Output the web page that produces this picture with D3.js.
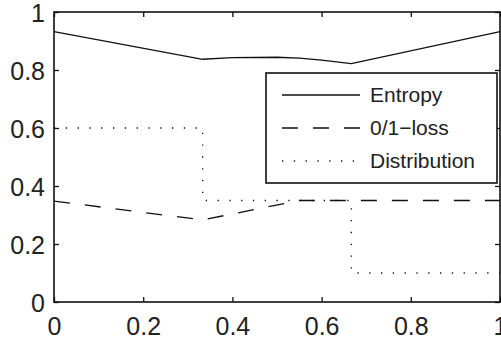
<!DOCTYPE html>
<html>
<head>
<meta charset="utf-8">
<script src="https://cdn.jsdelivr.net/npm/d3@7"></script>
<style>
  body { margin: 0; background: #fff; }
  svg { display: block; }
  text { font-family: "Liberation Sans", Arial, sans-serif; fill: #222; }
</style>
</head>
<body>
<div id="chart"></div>
<script>
var xTicks = [0, 0.2, 0.4, 0.6, 0.8, 1];
var yTicks = [0, 0.2, 0.4, 0.6, 0.8, 1];

var entropyX = [0, 1 / 3, 0.4, 0.5, 0.55, 0.6, 2 / 3, 1];
var entropyY = [0.932, 0.837, 0.843, 0.844, 0.841, 0.834, 0.822, 0.932];

var lossX = [0, 1 / 3, 0.55, 1];
var lossY = [0.348, 0.283, 0.35, 0.35];

var distX = [0, 1 / 3, 1 / 3, 2 / 3, 2 / 3, 1];
var distY = [0.6, 0.6, 0.35, 0.35, 0.1, 0.1];

var legendNames = ['Entropy', '0/1\u2212loss', 'Distribution'];

var W = 501, H = 340;
var margin = {left: 54, top: 12, right: 1, bottom: 38};
var width = W - margin.left - margin.right;
var height = H - margin.top - margin.bottom;

var x = d3.scaleLinear().domain([0, 1]).range([0, width]);
var y = d3.scaleLinear().domain([0, 1]).range([height, 0]);

var svg = d3.select('#chart').append('svg')
    .attr('width', W)
    .attr('height', H);
var g = svg.append('g')
    .attr('transform', 'translate(' + margin.left + ',' + margin.top + ')');

function zip(xs, ys) {
    return xs.map(function (d, i) { return [d, ys[i]]; });
}

var line = d3.line()
    .x(function (d) { return x(d[0]); })
    .y(function (d) { return y(d[1]); });

var styles = [
    {data: zip(entropyX, entropyY), dash: null, w: 1.3},
    {data: zip(lossX, lossY), dash: '16,15', w: 1.3},
    {data: zip(distX, distY), dash: '1.3,10.5', w: 1.3}
];

// draw distribution first so the dashed loss sits on top
[2, 1, 0].forEach(function (i) {
    var s = styles[i];
    g.append('path')
        .datum(s.data)
        .attr('d', line)
        .attr('fill', 'none')
        .attr('stroke', '#111')
        .attr('stroke-width', s.w)
        .attr('stroke-dasharray', s.dash);
});

// axes, ticks inside like matlab
var fmt = function (d) { return d3.format('')(d); };
var axB = g.append('g')
    .attr('transform', 'translate(0,' + height + ')')
    .call(d3.axisBottom(x).tickValues(xTicks).tickFormat(fmt).tickSizeInner(-5).tickSizeOuter(0).tickPadding(15));
var axL = g.append('g')
    .call(d3.axisLeft(y).tickValues(yTicks).tickFormat(fmt).tickSizeInner(-5).tickSizeOuter(0).tickPadding(9));
var axT = g.append('g')
    .call(d3.axisTop(x).tickValues(xTicks).tickFormat('').tickSizeInner(-5).tickSizeOuter(0));
var axR = g.append('g')
    .attr('transform', 'translate(' + width + ',0)')
    .call(d3.axisRight(y).tickValues(yTicks).tickFormat('').tickSizeInner(-5).tickSizeOuter(0));

[axB, axL, axT, axR].forEach(function (a) {
    a.select('.domain').remove();
    a.selectAll('line').attr('stroke', '#111').attr('stroke-width', 1.3);
    a.selectAll('text')
        .style('font-family', '"Liberation Sans", Arial, sans-serif')
        .style('font-size', '25px')
        .attr('fill', '#222');
});
axL.selectAll('text').attr('dy', '0.36em');

g.append('rect')
    .attr('width', width)
    .attr('height', height)
    .attr('fill', 'none')
    .attr('stroke', '#111')
    .attr('stroke-width', 1.6);

// legend
var leg = svg.append('g').attr('transform', 'translate(266,73)');
leg.append('rect')
    .attr('width', 231)
    .attr('height', 110)
    .attr('fill', '#fff')
    .attr('stroke', '#111')
    .attr('stroke-width', 1.6);

legendNames.forEach(function (name, i) {
    var cy = 22 + i * 33;
    leg.append('line')
        .attr('x1', 16).attr('x2', 94)
        .attr('y1', cy).attr('y2', cy)
        .attr('stroke', '#111')
        .attr('stroke-width', 1.3)
        .attr('stroke-dasharray', styles[i].dash);
    leg.append('text')
        .attr('x', 104)
        .attr('y', cy)
        .attr('dy', '0.35em')
        .style('font-size', '21px')
        .text(name);
});
</script>
</body>
</html>
